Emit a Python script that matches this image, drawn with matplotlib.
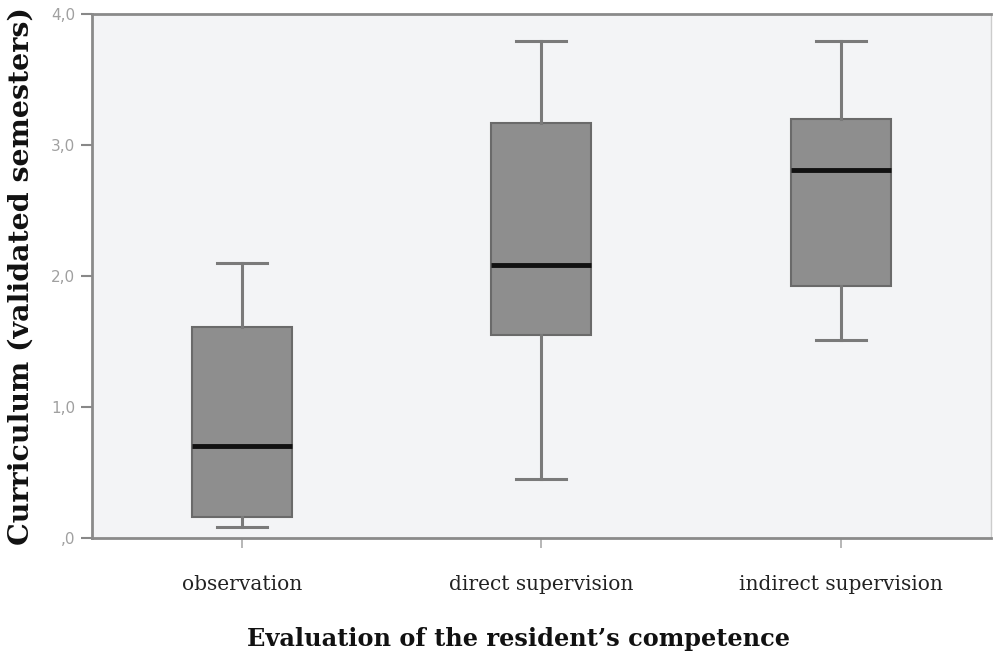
import matplotlib.pyplot as plt
import numpy as np

categories = ["observation", "direct supervision", "indirect supervision"]
whisker_low = [0.08, 0.45, 1.51]
q1 = [0.16, 1.55, 1.92]
median = [0.70, 2.08, 2.81]
q3 = [1.61, 3.17, 3.20]
whisker_high = [2.10, 3.79, 3.79]
y_ticks = [0, 1, 2, 3, 4]
y_tick_labels = [",0", "1,0", "2,0", "3,0", "4,0"]

stats = []
for i in range(len(categories)):
    stats.append({"whislo": whisker_low[i], "q1": q1[i], "med": median[i],
                  "q3": q3[i], "whishi": whisker_high[i], "fliers": [],
                  "label": categories[i]})

fig = plt.figure(figsize=(9.93, 6.6), dpi=100)
ax = fig.add_axes([0.0926, 0.185, 0.905, 0.794])
ax.set_facecolor("#f3f4f6")

ax.bxp(stats, positions=[1, 2, 3], widths=0.333, patch_artist=True, showfliers=False,
       boxprops=dict(facecolor="#8e8e8e", edgecolor="#6a6a6a", linewidth=1.5),
       medianprops=dict(color="#111111", linewidth=3.5),
       whiskerprops=dict(color="#7a7a7a", linewidth=2.2),
       capprops=dict(color="#7a7a7a", linewidth=2.2),
       capwidths=0.167)

ax.set_xlim(0.5, 3.5)
ax.set_ylim(0, 4.0)
ax.set_yticks(y_ticks)
ax.set_yticklabels(y_tick_labels, fontsize=11, color="#a0a0a0", family="DejaVu Sans")
ax.set_xticks([1, 2, 3])
ax.set_xticklabels(categories, fontsize=14.5, family="DejaVu Serif", color="#222222")
ax.tick_params(axis="y", length=8, width=1.5, color="#888888", pad=4)
ax.tick_params(axis="x", length=7, width=1.2, color="#aaaaaa", pad=20)

for s in ax.spines.values():
    s.set_color("#8a8a8a")
    s.set_linewidth(2)
ax.spines["right"].set_color("#cccccc")
ax.spines["right"].set_linewidth(1)

ax.set_ylabel("Curriculum (validated semesters)", fontsize=20.5, fontweight="bold",
              family="DejaVu Serif", color="#111111", labelpad=12)
ax.set_xlabel("Evaluation of the resident\u2019s competence", fontsize=17.3, fontweight="bold",
              family="DejaVu Serif", color="#111111")
ax.xaxis.set_label_coords(0.475, -0.17)

fig.savefig("out.png", dpi=100)
